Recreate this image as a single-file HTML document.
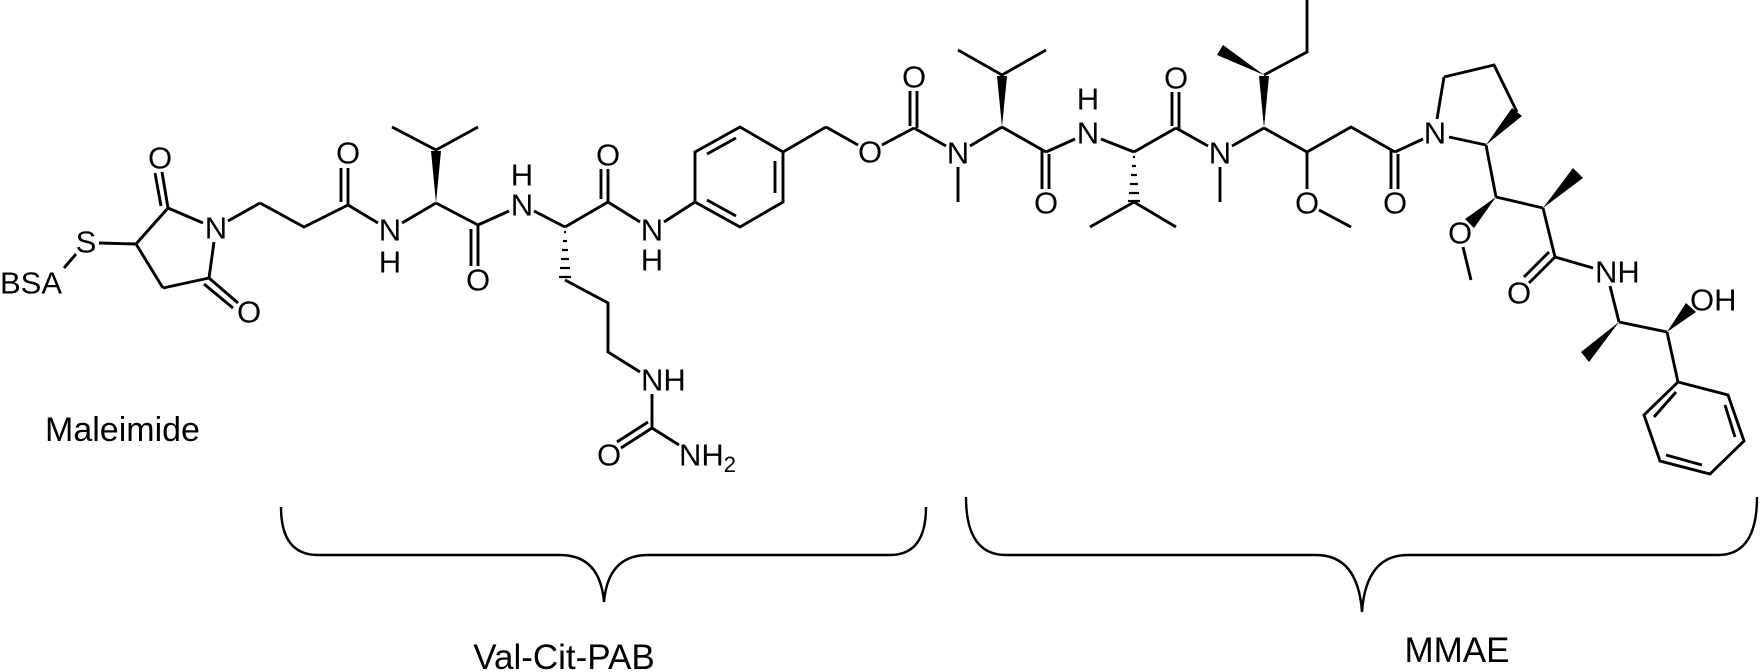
<!DOCTYPE html>
<html><head><meta charset="utf-8"><style>
html,body{margin:0;padding:0;background:#fff;}
svg{display:block;}
text{font-family:"Liberation Sans",Arial,sans-serif;fill:#000;}
.a{font-size:31px;text-anchor:middle;dominant-baseline:central;}
.s{font-size:31px;dominant-baseline:central;}
</style></head><body>
<svg width="1761" height="672" viewBox="0 0 1761 672" xmlns="http://www.w3.org/2000/svg">
<g stroke="#000" stroke-width="2.9" fill="none" stroke-linecap="butt">
<line x1="64" y1="268" x2="76" y2="254"/>
<line x1="99" y1="243" x2="136" y2="244"/>
<line x1="136" y1="244" x2="168" y2="208"/>
<line x1="168" y1="208" x2="203" y2="223"/>
<line x1="214" y1="242" x2="209" y2="278"/>
<line x1="209" y1="278" x2="163" y2="288"/>
<line x1="163" y1="288" x2="136" y2="244"/>
<line x1="168" y1="208" x2="162" y2="172"/>
<line x1="161" y1="206" x2="155" y2="173"/>
<line x1="209" y1="278" x2="238" y2="303"/>
<line x1="204" y1="284" x2="233" y2="308"/>
<line x1="228" y1="221" x2="260" y2="203"/>
<polyline points="260,203 304,227 348,205"/>
<line x1="348" y1="205" x2="348" y2="168"/>
<line x1="341" y1="202" x2="341" y2="168"/>
<line x1="348" y1="205" x2="378" y2="223"/>
<line x1="402" y1="223" x2="436" y2="203"/>
<polyline points="392,127 436,150 478,127"/>
<line x1="436" y1="203" x2="478" y2="225"/>
<line x1="478" y1="225" x2="478" y2="266"/>
<line x1="471" y1="229" x2="471" y2="266"/>
<line x1="478" y1="225" x2="509" y2="211"/>
<line x1="534" y1="211" x2="565" y2="227"/>
<polyline points="565,280 608,303 608,352 640,372"/>
<line x1="652" y1="394" x2="652" y2="428"/>
<line x1="652" y1="428" x2="621" y2="448"/>
<line x1="648" y1="422" x2="617" y2="442"/>
<line x1="652" y1="428" x2="679" y2="445"/>
<line x1="565" y1="227" x2="608" y2="202"/>
<line x1="608" y1="202" x2="608" y2="169"/>
<line x1="601" y1="199" x2="601" y2="169"/>
<line x1="608" y1="202" x2="640" y2="222"/>
<line x1="664" y1="222" x2="695" y2="202"/>
<polygon points="695,152 740,127 783,152 783,202 740,227 695,202"/>
<line x1="707" y1="154" x2="736" y2="138"/>
<line x1="775" y1="161" x2="775" y2="193"/>
<line x1="736" y1="216" x2="707" y2="200"/>
<line x1="783" y1="152" x2="826" y2="127"/>
<line x1="826" y1="127" x2="858" y2="145"/>
<line x1="882" y1="145" x2="914" y2="128"/>
<line x1="917" y1="128" x2="917" y2="91"/>
<line x1="910" y1="126" x2="910" y2="91"/>
<line x1="914" y1="128" x2="946" y2="146"/>
<line x1="958" y1="167" x2="958" y2="202"/>
<line x1="970" y1="146" x2="1002" y2="127"/>
<polyline points="958,50 1002,75 1046,50"/>
<line x1="1002" y1="127" x2="1046" y2="152"/>
<line x1="1049" y1="154" x2="1049" y2="189"/>
<line x1="1042" y1="150" x2="1042" y2="189"/>
<line x1="1046" y1="152" x2="1075" y2="139"/>
<line x1="1101" y1="139" x2="1134" y2="152"/>
<polyline points="1090,227 1134,202 1176,227"/>
<line x1="1134" y1="152" x2="1176" y2="128"/>
<line x1="1179" y1="130" x2="1179" y2="92"/>
<line x1="1172" y1="126" x2="1172" y2="92"/>
<line x1="1176" y1="128" x2="1208" y2="146"/>
<line x1="1220" y1="167" x2="1220" y2="202"/>
<line x1="1232" y1="146" x2="1264" y2="128"/>
<polyline points="1264,75 1307,52 1307,0"/>
<line x1="1264" y1="128" x2="1307" y2="152"/>
<line x1="1307" y1="152" x2="1307" y2="189"/>
<line x1="1319" y1="210" x2="1351" y2="227"/>
<polyline points="1307,152 1351,127 1395,152"/>
<line x1="1398" y1="154" x2="1398" y2="189"/>
<line x1="1391" y1="150" x2="1391" y2="189"/>
<line x1="1395" y1="152" x2="1423" y2="139"/>
<line x1="1437" y1="119" x2="1444" y2="77"/>
<polyline points="1444,77 1494,65 1517,112"/>
<line x1="1449" y1="137" x2="1486" y2="145"/>
<line x1="1486" y1="145" x2="1496" y2="197"/>
<line x1="1463" y1="247" x2="1471" y2="280"/>
<line x1="1496" y1="197" x2="1543" y2="208"/>
<line x1="1543" y1="208" x2="1555" y2="257"/>
<line x1="1555" y1="257" x2="1529" y2="283"/>
<line x1="1549" y1="252" x2="1524" y2="277"/>
<line x1="1555" y1="257" x2="1593" y2="268"/>
<line x1="1610" y1="286" x2="1619" y2="322"/>
<line x1="1619" y1="322" x2="1667" y2="332"/>
<line x1="1667" y1="332" x2="1678" y2="382"/>
<polygon points="1678,382 1728,395 1744,441 1710,474 1660,461 1644,415"/>
<line x1="1676" y1="392" x2="1654" y2="417"/>
<line x1="1725" y1="405" x2="1735" y2="437"/>
<line x1="1702" y1="465" x2="1666" y2="455"/>
<path d="M281,507 Q281,555 318,555 L560,555 Q600,555 604,602 Q608,555 648,555 L890,555 Q926,555 926,507" stroke-width="2.4"/>
<path d="M966,497 Q966,555 1006,555 L1316,555 Q1358,555 1362,612 Q1366,555 1408,555 L1718,555 Q1757,555 1757,497" stroke-width="2.4"/>
</g>
<g fill="#000">
<polygon points="436,203 431,151 441,151"/>
<polygon points="1002,127 997,76 1007,76"/>
<polygon points="1264,128 1259,76 1269,76"/>
<polygon points="1264,75 1217,55 1223,45"/>
<polygon points="1486,145 1512,108 1522,116"/>
<polygon points="1496,197 1465,219 1474,228"/>
<polygon points="1543,208 1573,168 1583,178"/>
<polygon points="1619,322 1581,352 1589,362"/>
<polygon points="1667,332 1686,303 1696,312"/>
</g>
<g stroke="#000" stroke-width="2.2">
<line x1="564" y1="232" x2="566" y2="232"/><line x1="563" y1="241" x2="567" y2="241"/><line x1="562" y1="250" x2="568" y2="250"/><line x1="561" y1="259" x2="569" y2="259"/><line x1="560" y1="268" x2="570" y2="268"/><line x1="559" y1="277" x2="571" y2="277"/>
<line x1="1133" y1="157" x2="1135" y2="157"/><line x1="1132" y1="166" x2="1136" y2="166"/><line x1="1131" y1="175" x2="1137" y2="175"/><line x1="1130" y1="184" x2="1138" y2="184"/><line x1="1129" y1="193" x2="1139" y2="193"/><line x1="1128" y1="201" x2="1140" y2="201"/>
</g>
<text x="0" y="283" class="s">BSA</text>
<text x="86" y="242" class="a">S</text>
<text x="160" y="158" class="a">O</text>
<text x="216" y="228" class="a">N</text>
<text x="249" y="312" class="a">O</text>
<text x="348" y="153" class="a">O</text>
<text x="390" y="230" class="a">N</text>
<text x="390" y="262" class="a">H</text>
<text x="478" y="280" class="a">O</text>
<text x="522" y="205" class="a">N</text>
<text x="522" y="175" class="a">H</text>
<text x="608" y="155" class="a">O</text>
<text x="652" y="230" class="a">N</text>
<text x="652" y="260" class="a">H</text>
<text x="641" y="380" class="s">NH</text>
<text x="609" y="455" class="a">O</text>
<text x="679" y="455" class="s">NH<tspan font-size="22" dy="9">2</tspan></text>
<text x="870" y="152" class="a">O</text>
<text x="914" y="77" class="a">O</text>
<text x="958" y="153" class="a">N</text>
<text x="1046" y="203" class="a">O</text>
<text x="1088" y="133" class="a">N</text>
<text x="1088" y="99" class="a">H</text>
<text x="1176" y="78" class="a">O</text>
<text x="1220" y="153" class="a">N</text>
<text x="1307" y="203" class="a">O</text>
<text x="1395" y="203" class="a">O</text>
<text x="1435" y="133" class="a">N</text>
<text x="1460" y="233" class="a">O</text>
<text x="1519" y="293" class="a">O</text>
<text x="1595" y="272" class="s">NH</text>
<text x="1690" y="300" class="s">OH</text>
<text x="45" y="441" font-size="34">Maleimide</text>
<text x="564" y="669" font-size="35" text-anchor="middle">Val-Cit-PAB</text>
<text x="1457" y="662" font-size="35" text-anchor="middle">MMAE</text>
</svg>
</body></html>
